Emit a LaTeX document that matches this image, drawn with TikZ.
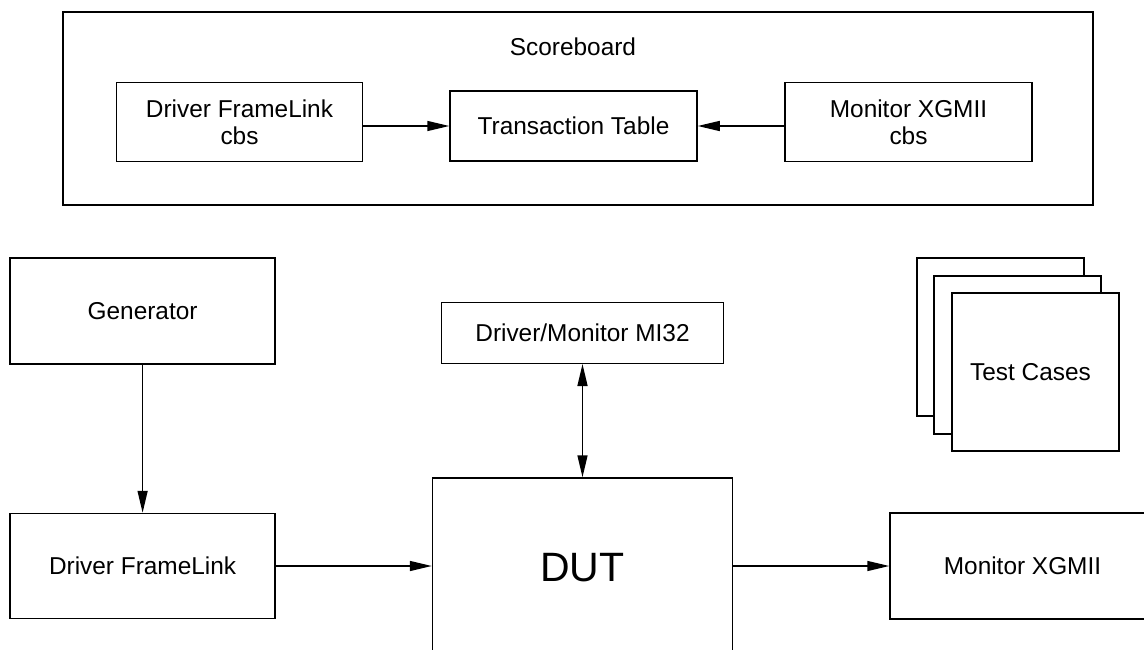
\documentclass[tikz,border=0pt]{standalone}
\usepackage{fontspec}
\setmainfont{Liberation Sans}
\usetikzlibrary{arrows.meta}
\begin{document}
\begin{tikzpicture}[x=1pt,y=-1pt,
  box/.style={draw=black,line width=1.5pt,fill=white,rectangle,inner sep=0pt,align=center,font=\fontsize{24.4}{27}\selectfont},
  conn/.style={line width=1.5pt,-{Triangle[length=22pt,width=10pt]}},
  bconn/.style={line width=1.5pt,{Triangle[length=22pt,width=10pt]}-{Triangle[length=22pt,width=10pt]}}]
\useasboundingbox (0,0) rectangle (1144,650);
\clip (0,0) rectangle (1144,650);
% Scoreboard
\node[box,minimum width=1030pt,minimum height=193pt] (sb) at (578,108.5) {};
\node[font=\fontsize{24.4}{27}\selectfont,inner sep=0pt] (sblabel) at (573,47) {Scoreboard};
\node[box,minimum width=246pt,minimum height=79pt] (dcbs) at (239.5,122) {Driver FrameLink\\cbs};
\node[box,minimum width=247pt,minimum height=70pt] (tt) at (573.5,126) {Transaction Table};
\node[box,minimum width=247pt,minimum height=79pt] (mcbs) at (908.5,122) {Monitor XGMII\\cbs};
\draw[conn] (dcbs.east |- tt.west) -- (tt.west);
\draw[conn] (mcbs.west |- tt.east) -- (tt.east);
% Lower part
\node[box,minimum width=265pt,minimum height=106pt] (gen) at (142.6,311) {Generator};
\node[box,minimum width=265pt,minimum height=105pt] (dfl) at (142.6,566) {Driver FrameLink};
\node[box,minimum width=300pt,minimum height=180pt,font=\fontsize{41}{45}\selectfont] (dut) at (582.5,568) {DUT};
\node[box,minimum width=282pt,minimum height=61pt] (mi32) at (582.5,332.8) {Driver/Monitor MI32};
\node[box,minimum width=265pt,minimum height=106pt] (mx) at (1022.5,566) {Monitor XGMII};
% Test cases stack
\node[box,minimum width=167pt,minimum height=158pt] (tc3) at (1000.5,337) {};
\node[box,minimum width=167pt,minimum height=158pt] (tc2) at (1017.5,355) {};
\node[box,minimum width=167pt,minimum height=158pt] (tc1) at (1035.5,372) {\hspace*{-10pt}Test Cases};
% Connectors
\draw[conn] (gen.south) -- (dfl.north);
\draw[conn] (dfl.east) -- (dut.west |- dfl.east);
\draw[conn] (dut.east |- mx.west) -- (mx.west);
\draw[bconn] (mi32.south) -- (dut.north);
\end{tikzpicture}
\end{document}
